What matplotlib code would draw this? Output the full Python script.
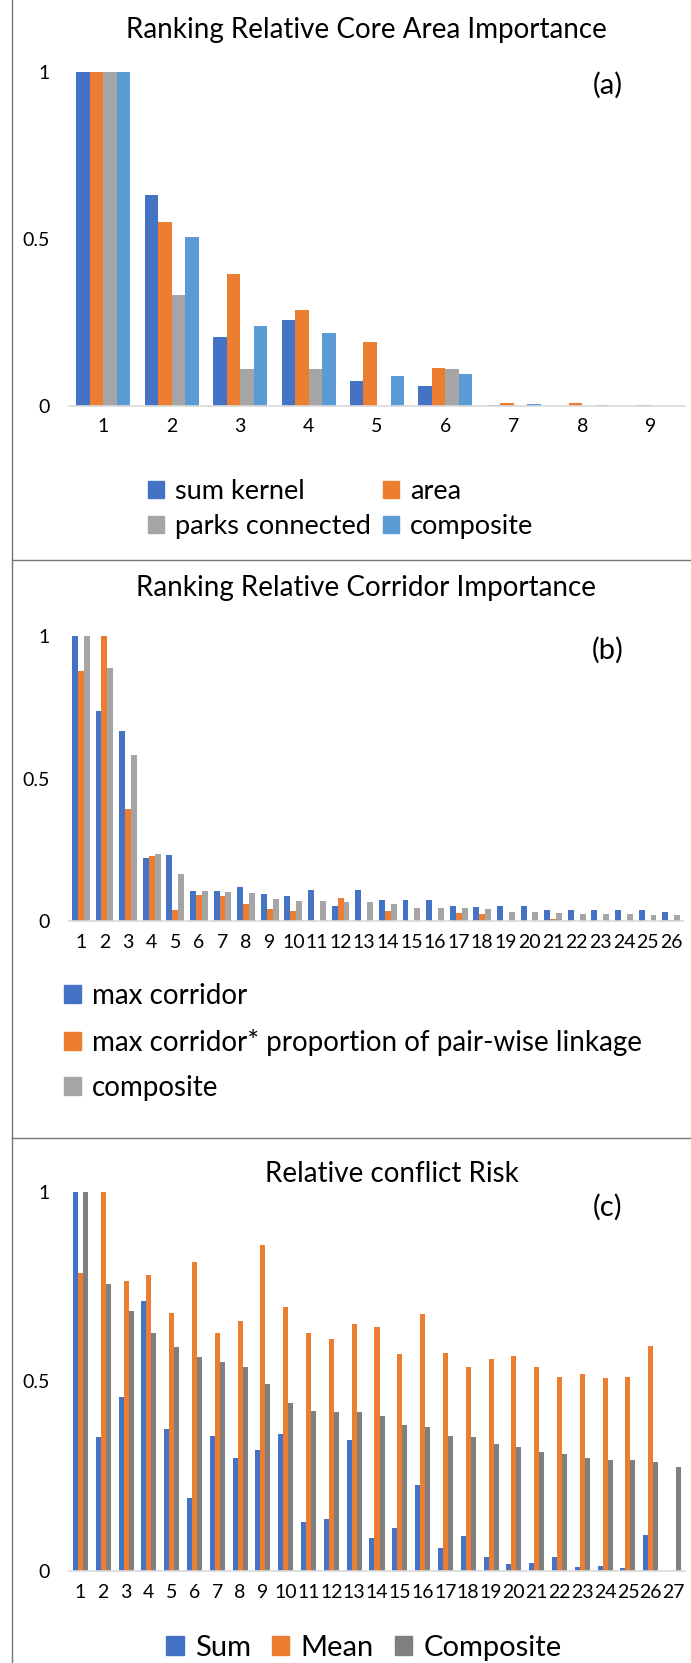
import numpy as np
import matplotlib.pyplot as plt
from matplotlib.lines import Line2D
from matplotlib.patches import Patch

plt.rcParams['font.family'] = ['Lato', 'DejaVu Sans']

W, H = 691, 1663

# (a) core areas
core_ranks = [str(i) for i in range(1, 10)]
sum_kernel = [1.0, 0.632, 0.208, 0.258, 0.074, 0.061, 0.002, 0.0, 0.0]
area = [1.0, 0.551, 0.394, 0.286, 0.192, 0.114, 0.010, 0.008, 0.002]
parks_connected = [1.0, 0.333, 0.111, 0.111, 0.0, 0.111, 0.0, 0.0, 0.0]
core_composite = [1.0, 0.506, 0.239, 0.218, 0.089, 0.096, 0.005, 0.002, 0.0]

# (b) corridors
corridor_ranks = [str(i) for i in range(1, 27)]
max_corridor = [1.0, 0.738, 0.665, 0.220, 0.232, 0.105, 0.105, 0.118, 0.094, 0.089,
                0.110, 0.053, 0.109, 0.074, 0.074, 0.073, 0.054, 0.049, 0.051, 0.051,
                0.037, 0.040, 0.039, 0.037, 0.037, 0.030]
max_corr_prop = [0.877, 1.0, 0.392, 0.227, 0.039, 0.092, 0.089, 0.060, 0.041, 0.035,
                 0.0, 0.080, 0.0, 0.035, 0.0, 0.0, 0.028, 0.026, 0.0, 0.0,
                 0.006, 0.0, 0.0, 0.0, 0.0, 0.005]
corridor_composite = [1.0, 0.888, 0.582, 0.235, 0.164, 0.105, 0.102, 0.099, 0.076, 0.070,
                      0.069, 0.067, 0.068, 0.060, 0.047, 0.044, 0.047, 0.042, 0.030, 0.032,
                      0.027, 0.025, 0.025, 0.023, 0.022, 0.022]

# (c) conflict risk
risk_ranks = [str(i) for i in range(1, 28)]
risk_sum = [1.0, 0.354, 0.460, 0.712, 0.374, 0.192, 0.356, 0.299, 0.319, 0.361,
            0.128, 0.136, 0.346, 0.088, 0.114, 0.226, 0.060, 0.092, 0.036, 0.019,
            0.021, 0.036, 0.011, 0.012, 0.009, 0.096, 0.0]
risk_mean = [0.785, 1.0, 0.764, 0.780, 0.682, 0.816, 0.627, 0.660, 0.860, 0.697,
             0.627, 0.611, 0.651, 0.644, 0.572, 0.679, 0.576, 0.537, 0.560, 0.567,
             0.537, 0.512, 0.520, 0.510, 0.512, 0.594, 0.0]
risk_composite = [1.0, 0.758, 0.686, 0.627, 0.590, 0.565, 0.551, 0.537, 0.493, 0.444,
                  0.422, 0.419, 0.419, 0.409, 0.384, 0.380, 0.355, 0.353, 0.334, 0.328,
                  0.313, 0.308, 0.297, 0.292, 0.292, 0.288, 0.274]

BLUE, ORANGE, GRAY, LBLUE, DGRAY = '#4472C4', '#ED7D31', '#A5A5A5', '#5B9BD5', '#7F7F7F'

fig = plt.figure(figsize=(W / 100, H / 100), dpi=100)


def px_axes(left, top, right, bottom):
    return fig.add_axes([left / W, 1 - bottom / H, (right - left) / W, (bottom - top) / H])


def bar_panel(ax, cats, series, colors, width):
    n = len(cats)
    x = np.arange(n)
    k = len(series)
    for i, (vals, c) in enumerate(zip(series, colors)):
        ax.bar(x + (i - (k - 1) / 2) * width, vals, width, color=c, linewidth=0)
    ax.set_xlim(-0.5, n - 0.5)
    ax.set_ylim(0, 1)
    ax.set_xticks(x)
    ax.set_xticklabels(cats)
    ax.set_yticks([0, 0.5, 1])
    ax.set_yticklabels(['0', '0.5', '1'])
    for s in ['top', 'right', 'left']:
        ax.spines[s].set_visible(False)
    ax.spines['bottom'].set_color('#D9D9D9')
    ax.spines['bottom'].set_linewidth(1.2)
    ax.tick_params(axis='both', length=0, labelsize=14, colors='black')
    ax.tick_params(axis='x', pad=9)
    ax.tick_params(axis='y', pad=14)


def ftext(x, y, s, size, **kw):
    fig.text(x / W, 1 - y / H, s, fontsize=size, ha='center', va='center', **kw)


def flegend(handles, x, y, loc, size, **kw):
    fig.legend(handles=handles, loc=loc, bbox_to_anchor=(x / W, 1 - y / H),
               frameon=False, fontsize=size, handlelength=0.6, handleheight=0.6,
               handletextpad=0.4, borderpad=0, borderaxespad=0, **kw)


# panel (a)
ax1 = px_axes(69, 72, 685, 406)
bar_panel(ax1, core_ranks, [sum_kernel, area, parks_connected, core_composite],
          [BLUE, ORANGE, GRAY, LBLUE], 0.1975)
ftext(366, 30, 'Ranking Relative Core Area Importance', 20)
ftext(608, 85, '(a)', 21)
flegend([Patch(color=BLUE, label='sum kernel'), Patch(color=GRAY, label='parks connected'),
         Patch(color=ORANGE, label='area'), Patch(color=LBLUE, label='composite')],
        148, 509, 'center left', 19.5, ncol=2, columnspacing=0.45, labelspacing=0.38)

# panel (b)
ax2 = px_axes(69, 636, 683, 921)
bar_panel(ax2, corridor_ranks, [max_corridor, max_corr_prop, corridor_composite],
          [BLUE, ORANGE, GRAY], 0.25)
ftext(366, 588, 'Ranking Relative Corridor Importance', 20)
ftext(608, 650, '(b)', 21)
flegend([Patch(color=BLUE, label='max corridor'),
         Patch(color=ORANGE, label='max corridor* proportion of pair-wise linkage'),
         Patch(color=GRAY, label='composite')],
        64, 1042, 'center left', 20, labelspacing=0.7)

# panel (c)
ax3 = px_axes(69, 1192, 685, 1571)
bar_panel(ax3, risk_ranks, [risk_sum, risk_mean, risk_composite],
          [BLUE, ORANGE, DGRAY], 0.22)
ftext(392, 1174, 'Relative conflict Risk', 20)
ftext(608, 1207, '(c)', 21)
flegend([Patch(color=BLUE, label='Sum'), Patch(color=ORANGE, label='Mean'),
         Patch(color=DGRAY, label='Composite')],
        364, 1648, 'center', 21, ncol=3, columnspacing=0.7)

# chart borders
fig.add_artist(Line2D([12 / W, 12 / W], [0, 1], color='#767676', lw=1))
for yy in [560, 1138]:
    fig.add_artist(Line2D([12 / W, 1], [1 - yy / H, 1 - yy / H], color='#767676', lw=1))

fig.savefig('out.png', dpi=100)
